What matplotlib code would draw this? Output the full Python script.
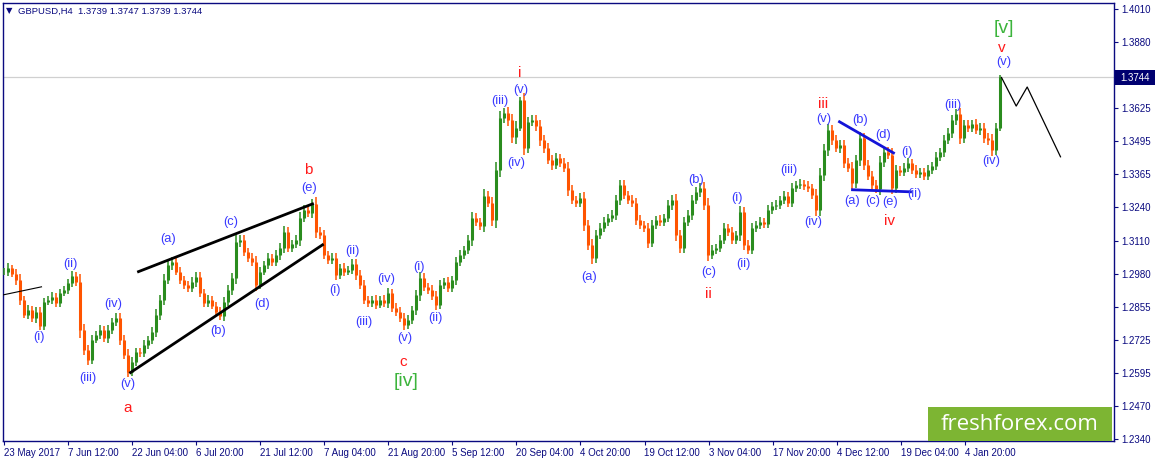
import numpy as np
import matplotlib
matplotlib.use("Agg")
import matplotlib.pyplot as plt
from matplotlib.patches import Rectangle

# ---------------- data ----------------
# closes sampled every 4 H4 bars (bar index = 4*k)
closes = [
    1.2990, 1.3005, 1.2982, 1.2958, 1.2881, 1.2823, 1.2842, 1.2811, 1.2834, 1.2780,
    1.2873, 1.2881, 1.2893, 1.2869, 1.2908, 1.2920, 1.2947, 1.2974, 1.2951, 1.2764,
    1.2687, 1.2648, 1.2726, 1.2745, 1.2764, 1.2733, 1.2764, 1.2796, 1.2811, 1.2726,
    1.2668, 1.2602, 1.2640, 1.2679, 1.2675, 1.2706, 1.2726, 1.2757, 1.2823, 1.2881,
    1.2958, 1.3017, 1.3028, 1.2990, 1.2958, 1.2939, 1.2927, 1.2951, 1.2970, 1.2908,
    1.2869, 1.2881, 1.2858, 1.2834, 1.2819, 1.2873, 1.2920, 1.2966, 1.3106, 1.3114,
    1.3067, 1.3044, 1.3028, 1.2939, 1.2990, 1.3017, 1.3044, 1.3028, 1.3056, 1.3083,
    1.3145, 1.3083, 1.3098, 1.3114, 1.3199, 1.3230, 1.3218, 1.3253, 1.3145, 1.3133,
    1.3056, 1.3036, 1.3044, 1.2978, 1.3005, 1.2990, 1.2997, 1.3021, 1.2978, 1.2939,
    1.2881, 1.2869, 1.2881, 1.2862, 1.2881, 1.2869, 1.2908, 1.2850, 1.2834, 1.2811,
    1.2784, 1.2803, 1.2842, 1.2900, 1.2966, 1.2931, 1.2920, 1.2896, 1.2862, 1.2939,
    1.2951, 1.2927, 1.2958, 1.3028, 1.3056, 1.3075, 1.3114, 1.3199, 1.3184, 1.3168,
    1.3284, 1.3257, 1.3191, 1.3385, 1.3587, 1.3606, 1.3579, 1.3513, 1.3548, 1.3657,
    1.3471, 1.3572, 1.3579, 1.3556, 1.3502, 1.3471, 1.3424, 1.3405, 1.3432, 1.3412,
    1.3393, 1.3308, 1.3269, 1.3257, 1.3277, 1.3172, 1.3094, 1.3044, 1.3133, 1.3160,
    1.3184, 1.3199, 1.3211, 1.3269, 1.3327, 1.3288, 1.3269, 1.3257, 1.3191, 1.3172,
    1.3160, 1.3102, 1.3172, 1.3191, 1.3184, 1.3199, 1.3250, 1.3269, 1.3133, 1.3083,
    1.3184, 1.3211, 1.3269, 1.3300, 1.3315, 1.3250, 1.3056, 1.3075, 1.3083, 1.3114,
    1.3160, 1.3145, 1.3114, 1.3133, 1.3222, 1.3094, 1.3075, 1.3160, 1.3172, 1.3184,
    1.3176, 1.3230, 1.3246, 1.3250, 1.3269, 1.3284, 1.3257, 1.3315, 1.3327, 1.3331,
    1.3323, 1.3315, 1.3288, 1.3230, 1.3366, 1.3463, 1.3541, 1.3502, 1.3471, 1.3482,
    1.3412, 1.3393, 1.3335, 1.3424, 1.3509, 1.3405, 1.3362, 1.3327, 1.3312, 1.3416,
    1.3455, 1.3444, 1.3315, 1.3385, 1.3378, 1.3393, 1.3412, 1.3385, 1.3370, 1.3378,
    1.3362, 1.3385, 1.3401, 1.3436, 1.3455, 1.3502, 1.3529, 1.3579, 1.3603, 1.3509,
    1.3560, 1.3548, 1.3564, 1.3541, 1.3548, 1.3509, 1.3502, 1.3463, 1.3548, 1.3744,
]
# estimated extra range (pips) of each sampled bar beyond its open/close
range_pips = [
    30, 35, 25, 40, 45, 30, 35, 30, 40, 35,
    30, 25, 35, 30, 30, 25, 30, 35, 30, 60,
    45, 40, 35, 30, 35, 30, 40, 30, 35, 40,
    35, 40, 35, 30, 30, 35, 30, 35, 40, 40,
    45, 35, 40, 30, 35, 30, 30, 35, 40, 35,
    30, 35, 30, 30, 35, 40, 35, 40, 50, 40,
    35, 30, 35, 45, 35, 30, 35, 30, 35, 40,
    45, 35, 30, 35, 45, 35, 30, 40, 50, 35,
    35, 30, 35, 40, 30, 35, 30, 35, 40, 35,
    35, 30, 30, 35, 30, 35, 40, 30, 35, 35,
    40, 35, 30, 40, 45, 35, 30, 35, 40, 35,
    30, 35, 30, 40, 35, 30, 35, 45, 35, 30,
    50, 35, 45, 60, 55, 40, 45, 50, 55, 20,
    55, 40, 35, 40, 45, 40, 35, 40, 35, 30,
    35, 45, 35, 30, 35, 45, 40, 45, 40, 35,
    35, 30, 35, 40, 40, 35, 30, 35, 40, 35,
    30, 40, 35, 30, 35, 30, 35, 40, 45, 40,
    40, 35, 40, 35, 40, 45, 50, 35, 30, 35,
    35, 30, 35, 30, 45, 40, 35, 35, 30, 35,
    30, 35, 30, 35, 30, 35, 30, 35, 30, 35,
    30, 35, 30, 45, 50, 45, 45, 40, 35, 40,
    40, 35, 45, 40, 50, 40, 35, 40, 35, 45,
    40, 35, 50, 40, 30, 35, 35, 30, 35, 30,
    30, 35, 30, 35, 30, 40, 35, 40, 40, 45,
    40, 35, 30, 35, 40, 35, 40, 45, 40, 20,
]
bar_step = 4

x_labels = ["23 May 2017", "7 Jun 12:00", "22 Jun 04:00", "6 Jul 20:00", "21 Jul 12:00",
            "7 Aug 04:00", "21 Aug 20:00", "5 Sep 12:00", "20 Sep 04:00", "4 Oct 20:00",
            "19 Oct 12:00", "3 Nov 04:00", "17 Nov 20:00", "4 Dec 12:00", "19 Dec 04:00",
            "4 Jan 20:00"]
x_tick_step = 64.1

y_labels = ["1.4010", "1.3880", "", "1.3625", "1.3495", "1.3365", "1.3240", "1.3110",
            "1.2980", "1.2855", "1.2725", "1.2595", "1.2470", "1.2340"]
y_top, y_bot = 1.4010, 1.2340

last_price = 1.3744
title = "GBPUSD,H4  1.3739 1.3747 1.3739 1.3744"

# projection path (bar index, price)
proj_x = [998, 1012.7, 1023.7, 1057]
proj_y = [1.3744, 1.3633, 1.3707, 1.3436]

# trend lines (bar index pairs, price pairs)
wedge_upper = ([135, 309], [1.2990, 1.3253])
wedge_lower = ([127, 319], [1.2598, 1.3094])
thin_line = ([0, 38], [1.2900, 1.2931])
tri_upper = ([836, 890], [1.3572, 1.3451])
tri_lower = ([849, 907], [1.3308, 1.3300])

blue_labels = [
    ("(i)", 35, 1.2737), ("(ii)", 67, 1.3021), ("(iii)", 84, 1.2578), ("(iv)", 110, 1.2865),
    ("(v)", 124, 1.2555), ("(a)", 165, 1.3118), ("(b)", 215, 1.2761), ("(c)", 227, 1.3184),
    ("(d)", 259, 1.2865), ("(e)", 306, 1.3315), ("(i)", 331, 1.2920), ("(ii)", 349, 1.3071),
    ("(iii)", 360, 1.2796), ("(iv)", 383, 1.2962), ("(v)", 401, 1.2733), ("(i)", 415, 1.3009),
    ("(ii)", 432, 1.2811), ("(iii)", 496, 1.3653), ("(v)", 517, 1.3695), ("(iv)", 513, 1.3412),
    ("(a)", 586, 1.2970), ("(b)", 693, 1.3346), ("(c)", 705, 1.2990), ("(i)", 734, 1.3277),
    ("(ii)", 740, 1.3021), ("(iii)", 785, 1.3385), ("(iv)", 810, 1.3184), ("(v)", 820, 1.3583),
    ("(b)", 857, 1.3579), ("(d)", 880, 1.3521), ("(a)", 849, 1.3265), ("(c)", 869, 1.3265),
    ("(e)", 887, 1.3261), ("(i)", 904, 1.3455), ("(ii)", 911, 1.3292), ("(iii)", 949, 1.3637),
    ("(iv)", 988, 1.3420), ("(v)", 1000, 1.3804),
]
red_labels = [
    ("a", 124, 1.2462), ("b", 305, 1.3385), ("c", 400, 1.2640), ("i", 516, 1.3762),
    ("ii", 705, 1.2904), ("iii", 820, 1.3641), ("iv", 886, 1.3187), ("v", 998, 1.3859),
]
green_labels = [("[iv]", 403, 1.2563), ("[v]", 1000, 1.3936)]

# ---------------- figure ----------------
W, H = 1155, 462
fig = plt.figure(figsize=(W / 100, H / 100), dpi=100)
fig.patch.set_facecolor("white")
ax_l, ax_r, ax_t, ax_b = 3, 1114, 3, 441
ax = fig.add_axes([ax_l / W, (H - ax_b) / H, (ax_r - ax_l) / W, (ax_b - ax_t) / H])

navy = "#0a0a80"
ppu = (439 - 9) / (y_top - y_bot)
ymax = y_top + (9 - ax_t) / ppu
ymin = y_bot - (ax_b - 439) / ppu
ax.set_ylim(ymin, ymax)
ax.set_xlim(-0.5, (ax_r - ax_l) - 0.5)

ax.axhline(last_price, color="#d0d0d0", lw=0.9, zorder=1)

# OHLC-style bars
c = np.array(closes)
r = np.array(range_pips) * 0.0001 / 2
xs = np.arange(len(c)) * bar_step
opens = np.concatenate([[c[0]], c[:-1]])
hi = np.maximum(opens, c) + r
lo = np.minimum(opens, c) - r
up = c >= opens
green, orange = "#2a8c1e", "#ff5400"
ax.vlines(xs[up], lo[up], hi[up], colors=green, lw=1.1, zorder=3)
ax.vlines(xs[~up], lo[~up], hi[~up], colors=orange, lw=1.1, zorder=3)
ax.vlines(xs[up], opens[up], c[up], colors=green, lw=2.2, zorder=3)
ax.vlines(xs[~up], opens[~up], c[~up], colors=orange, lw=2.2, zorder=3)

ax.plot(*wedge_upper, color="black", lw=2.0, zorder=4)
ax.plot(*wedge_lower, color="black", lw=2.0, zorder=4)
ax.plot(*thin_line, color="black", lw=0.8, zorder=4)
ax.plot(*tri_upper, color="#1414d8", lw=2.0, zorder=4)
ax.plot(*tri_lower, color="#1414d8", lw=2.0, zorder=4)
ax.plot(proj_x, proj_y, color="black", lw=0.9, zorder=4)

lab_font = "Liberation Sans"
for t, x, y in blue_labels:
    ax.text(x, y, t, color="#3a3aff", fontsize=9.3, family=lab_font, ha="center", va="center", zorder=5)
for t, x, y in red_labels:
    ax.text(x, y, t, color="#ff1a1a", fontsize=11, family=lab_font, ha="center", va="center", zorder=5)
for t, x, y in green_labels:
    ax.text(x, y, t, color="#3cb43c", fontsize=14, family=lab_font, ha="center", va="center", zorder=5)

for s in ax.spines.values():
    s.set_color(navy)
    s.set_linewidth(1.0)
ax.yaxis.tick_right()
yticks = np.linspace(y_top, y_bot, len(y_labels))
ax.set_yticks(yticks)
ax.set_yticklabels(y_labels)
xticks = np.arange(len(x_labels)) * x_tick_step
ax.set_xticks(xticks)
ax.set_xticklabels(x_labels, ha="left")
ax.tick_params(axis="both", colors=navy, labelcolor=navy, labelsize=7, length=3, width=0.8,
               direction="out", pad=2)
for lab in ax.get_xticklabels() + ax.get_yticklabels():
    lab.set_family(lab_font)

fig.text(6 / W, 1 - 11 / H, "\u25BC", fontsize=6, color=navy, va="center", ha="left",
         family=["DejaVu Sans"])
fig.text(18 / W, 1 - 11 / H, title, fontsize=6.8, color=navy, va="center", ha="left", family=lab_font)

fig.patches.append(Rectangle((1115 / W, 1 - 85 / H), 40 / W, 15 / H, transform=fig.transFigure,
                             facecolor="#000070", edgecolor="none", zorder=10))
fig.text(1120 / W, 1 - 78 / H, f"{last_price:.4f}", fontsize=7, color="white", va="center",
         ha="left", family=lab_font, zorder=11)

fig.patches.append(Rectangle((928 / W, 1 - 441 / H), 184 / W, 34 / H, transform=fig.transFigure,
                             facecolor="#7db533", edgecolor="none", zorder=10))
fig.text(1020 / W, 1 - 424 / H, "freshforex.com", fontsize=16, color="white", va="center",
         ha="center", family="Open Sans", zorder=11)

fig.savefig("out.png", dpi=100)
